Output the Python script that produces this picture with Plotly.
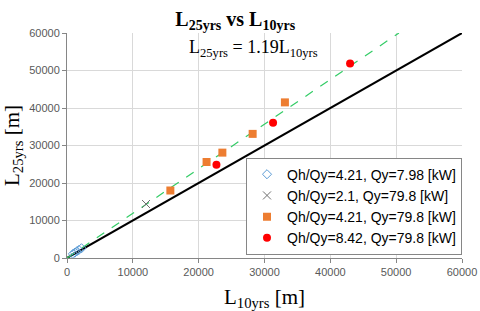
import plotly.graph_objects as go

# Data
s1_name = "Qh/Qy=4.21, Qy=7.98 [kW]"
s1_x = [900, 1200, 1500, 1800, 2200]
s1_y = [1100, 1450, 1800, 2150, 2600]

s2_name = "Qh/Qy=2.1, Qy=79.8 [kW]"
s2_x = [12000]
s2_y = [14400]

s3_name = "Qh/Qy=4.21, Qy=79.8 [kW]"
s3_x = [15700, 21200, 23600, 28200, 33100]
s3_y = [18000, 25600, 28100, 33100, 41500]

s4_name = "Qh/Qy=8.42, Qy=79.8 [kW]"
s4_x = [22700, 31300, 43000]
s4_y = [24900, 36100, 51900]

fit_slope = 1.19
fit_x = [0, 60000 / fit_slope]
ident_x = [0, 60000]
ticks = [0, 10000, 20000, 30000, 40000, 50000, 60000]
tick_labels = ["0", "10000", "20000", "30000", "40000", "50000", "60000"]

fig = go.Figure()
fig.add_trace(go.Scatter(x=ident_x, y=ident_x, mode="lines",
                         line=dict(color="black", width=2), showlegend=False))
fig.add_trace(go.Scatter(x=fit_x, y=[v * fit_slope for v in fit_x], mode="lines",
                         line=dict(color="#33cc66", width=1.2, dash="dash"), showlegend=False))
fig.add_trace(go.Scatter(x=s1_x, y=s1_y, mode="markers", name=s1_name,
                         marker=dict(symbol="diamond-open", size=7, color="#5b9bd5", line=dict(width=1))))
fig.add_trace(go.Scatter(x=s2_x, y=s2_y, mode="markers", name=s2_name,
                         marker=dict(symbol="x-thin-open", size=8, color="#707070", line=dict(width=1, color="#707070"))))
fig.add_trace(go.Scatter(x=s3_x, y=s3_y, mode="markers", name=s3_name,
                         marker=dict(symbol="square", size=8, color="#ed7d31")))
fig.add_trace(go.Scatter(x=s4_x, y=s4_y, mode="markers", name=s4_name,
                         marker=dict(symbol="circle", size=8, color="#ff0000")))

axis_common = dict(range=[0, 60000], tickvals=ticks, ticktext=tick_labels, showgrid=True,
                   gridcolor="#d9d9d9", automargin=False,
                   gridwidth=1, zeroline=False, showline=True, linecolor="#868686", linewidth=1,
                   ticks="outside", ticklen=4, tickcolor="#868686",
                   tickfont=dict(family="Liberation Sans", size=11, color="#595959"))

fig.update_layout(
    width=480, height=311,
    margin=dict(l=67, r=18, t=33, b=53),
    paper_bgcolor="white", plot_bgcolor="white",
    title=dict(text="<b>L<sub>25yrs</sub> vs L<sub>10yrs</sub></b>", x=0.49, xanchor="center",
               y=0.94, yanchor="middle",
               font=dict(family="Liberation Serif", size=20, color="black")),
    xaxis=dict(**axis_common, title=dict(text="L<sub>10yrs</sub> [m]", standoff=13,
               font=dict(family="Liberation Serif", size=21, color="black"))),
    yaxis=dict(**axis_common, title=dict(text="L<sub>25yrs</sub> [m]", standoff=11,
               font=dict(family="Liberation Serif", size=21, color="black"))),
    legend=dict(x=1, xanchor="right", y=0.015, yanchor="bottom",
                bgcolor="white", bordercolor="#868686", borderwidth=1,
                font=dict(family="Liberation Sans", size=14, color="black"),
                tracegroupgap=0, itemsizing="trace", itemwidth=30),
    showlegend=True,
    annotations=[dict(text="L<sub>25yrs</sub> = 1.19L<sub>10yrs</sub>", x=18200, y=56000,
                      xref="x", yref="y", xanchor="left", yanchor="middle", showarrow=False,
                      font=dict(family="Liberation Serif", size=18, color="black"))],
)
fig.write_html("out.html", config={"displayModeBar": False},
               post_script="document.body.style.margin='0px';")
